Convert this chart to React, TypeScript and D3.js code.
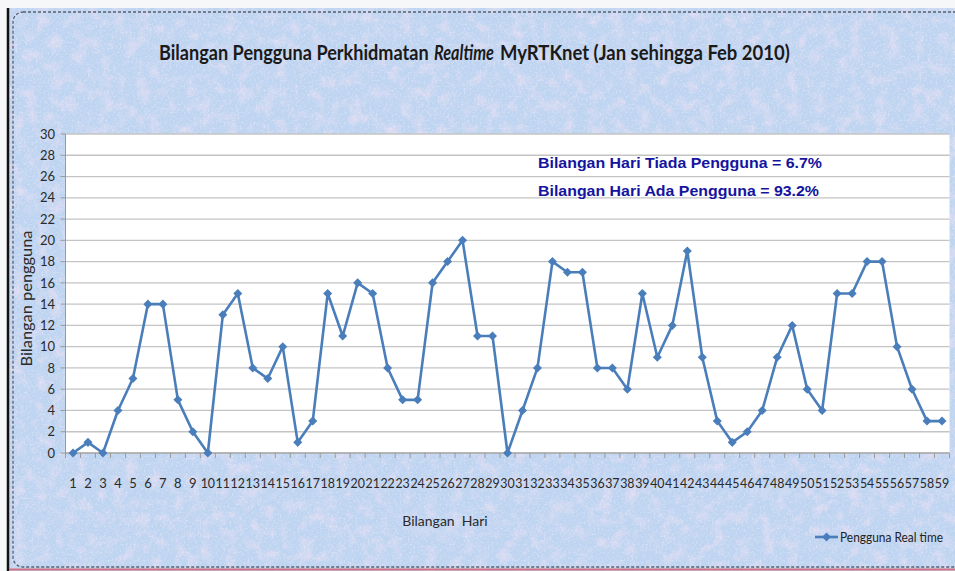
import React, { useEffect, useRef } from 'react';
import * as d3 from 'd3';

const width = 955, height = 571;
const margin = { top: 134, right: 5.5, bottom: 118, left: 65.5 };

// day numbers on the category axis
const days = [
  '1', '2', '3', '4', '5', '6', '7', '8', '9', '10',
  '11', '12', '13', '14', '15', '16', '17', '18', '19', '20',
  '21', '22', '23', '24', '25', '26', '27', '28', '29', '30',
  '31', '32', '33', '34', '35', '36', '37', '38', '39', '40',
  '41', '42', '43', '44', '45', '46', '47', '48', '49', '50',
  '51', '52', '53', '54', '55', '56', '57', '58', '59'];

// users per day
const users = [
  0, 1, 0, 4, 7, 14, 14, 5, 2, 0,
  13, 15, 8, 7, 10, 1, 3, 15, 11, 16,
  15, 8, 5, 5, 16, 18, 20, 11, 11, 0,
  4, 8, 18, 17, 17, 8, 8, 6, 15, 9,
  12, 19, 9, 3, 1, 2, 4, 9, 12, 6,
  4, 15, 15, 18, 18, 10, 6, 3, 3];

const yTicks = [0, 2, 4, 6, 8, 10, 12, 14, 16, 18, 20, 22, 24, 26, 28, 30];

const notes = ['Bilangan Hari Tiada Pengguna = 6.7%', 'Bilangan Hari Ada Pengguna = 93.2%'];
const noteWidths = [284, 281];

// title pieces, middle one is italic
const titleParts = ['Bilangan Pengguna Perkhidmatan', 'Realtime', 'MyRTKnet (Jan sehingga Feb 2010)'];
const titleSpans = [[159, 429], [434, 494], [500, 790]];

const lineColor = '#4a7ebb';
const calibri = 'Lato, "Open Sans", sans-serif';

export default function App() {
  const titleRef = useRef<SVGGElement>(null);

  // squeeze each title piece horizontally into its slot (Calibri is narrower than Lato)
  useEffect(() => {
    d3.select(titleRef.current).selectAll<SVGTextElement, unknown>('text').each(function (_, i) {
      const w = this.getComputedTextLength();
      const [a, b] = titleSpans[i];
      d3.select(this).attr('transform', `translate(${a},60) scale(${(b - a) / w},1)`);
    });
  }, []);

  const x = d3.scaleBand().domain(days).range([margin.left, width - margin.right]).padding(0);
  const y = d3.scaleLinear().domain([0, 30]).range([height - margin.bottom, margin.top]);
  const cx = (d: string) => (x(d) as number) + x.bandwidth() / 2;

  const line = d3.line<number>()
    .x((_, i) => cx(days[i]))
    .y(d => y(d));

  const diamond = d3.symbol().type(d3.symbolDiamond2).size(52)();

  const x0 = margin.left, x1 = width - margin.right, yb = y(0), yt = y(30);

  return (
    <div style={{ position: 'absolute', left: 0, top: 0 }}>
      <svg width={width} height={height} viewBox={`0 0 ${width} ${height}`}>
        <defs>
          <filter id="mottle" x="0" y="0" width="100%" height="100%">
            <feTurbulence type="fractalNoise" baseFrequency="0.08" numOctaves={3} seed={4} result="n" />
            <feColorMatrix in="n" type="matrix"
              values="0 0 0 0 0.93  0 0 0 0 0.76  0 0 0 0 0.90  1.8 0 0 0 -0.8" />
          </filter>
          <filter id="speck" x="0" y="0" width="100%" height="100%">
            <feTurbulence type="fractalNoise" baseFrequency="0.5" numOctaves={2} seed={9} result="n" />
            <feColorMatrix in="n" type="matrix"
              values="0 0 0 0 0.90  0 0 0 0 0.95  0 0 0 0 1  2.0 0 0 0 -0.95" />
          </filter>
        </defs>

        {/* page + frame */}
        <rect x={0} y={0} width={width} height={height} fill="#f6f7f9" />
        <rect x={9} y={8} width={width} height={height} fill="#bed4f1" />
        <rect x={9} y={8} width={width} height={height} filter="url(#mottle)" opacity={0.7} />
        <rect x={9} y={8} width={width} height={height} filter="url(#speck)" opacity={0.55} />
        <line x1={8} x2={8} y1={8} y2={height} stroke="#111" strokeWidth={2.5} />
        <rect x={13} y={12} width={width + 20} height={height - 16} rx={10} fill="none"
          stroke="#5a6070" strokeWidth={1.3} strokeDasharray="3,2" />
        <line x1={9} x2={width} y1={height - 1.5} y2={height - 1.5} stroke="#d07080" strokeWidth={2} />

        {/* title */}
        <g ref={titleRef}>
          {titleParts.map((t, i) => (
            <text key={t} transform={`translate(${titleSpans[i][0]},60)`} fontFamily={calibri}
              fontSize={20.5} fontWeight={700} fontStyle={i === 1 ? 'italic' : 'normal'}
              fill="#1a1a1a">{t}</text>
          ))}
        </g>

        {/* plot area */}
        <rect x={x0} y={yt} width={x1 - x0} height={yb - yt} fill="#ffffff" />
        {yTicks.map(t => (
          <line key={'g' + t} x1={x0} x2={x1} y1={y(t)} y2={y(t)} stroke="#c4c4c4" strokeWidth={1.3} />
        ))}
        <line x1={x0} x2={x0} y1={yt} y2={yb} stroke="#9a9a9a" />
        <line x1={x0} x2={x1} y1={yb} y2={yb} stroke="#9a9a9a" />
        {yTicks.map(t => (
          <line key={'yt' + t} x1={x0 - 5} x2={x0} y1={y(t)} y2={y(t)} stroke="#9a9a9a" />
        ))}
        {days.map(d => (
          <line key={'xt' + d} x1={x(d)} x2={x(d)} y1={yb} y2={yb + 5} stroke="#9a9a9a" />
        ))}
        <line x1={x1} x2={x1} y1={yb} y2={yb + 5} stroke="#9a9a9a" />

        {/* y tick labels */}
        {yTicks.map(t => (
          <text key={'yl' + t} x={55} y={y(t)} dy="0.36em" textAnchor="end" fontFamily={calibri}
            fontSize={13} fill="#2a2a2a">{t}</text>
        ))}
        {/* x tick labels */}
        {days.map(d => (
          <text key={'xl' + d} x={cx(d)} y={488} textAnchor="middle" fontFamily={calibri}
            fontSize={13} fill="#2a2a2a" textLength={d.length > 1 ? 14.4 : undefined}
            lengthAdjust="spacingAndGlyphs">{d}</text>
        ))}

        {/* axis titles */}
        <text transform={`translate(32,${(yt + yb) / 2 + 5}) rotate(-90)`} textAnchor="middle"
          fontFamily={calibri} fontSize={15} fill="#2a2a2a" textLength={136}
          lengthAdjust="spacingAndGlyphs">Bilangan pengguna</text>
        <text x={445} y={526} textAnchor="middle" fontFamily={calibri} fontSize={14} fill="#2a2a2a"
          style={{ whiteSpace: 'pre' }}>Bilangan  Hari</text>

        {/* notes */}
        {notes.map((n, i) => (
          <text key={n} x={538} y={167.5 + i * 28} fontFamily='"Liberation Sans", Arial, sans-serif'
            fontSize={15} fontWeight={700} fill="#1414a0" textLength={noteWidths[i]}
            lengthAdjust="spacingAndGlyphs">{n}</text>
        ))}

        {/* series */}
        <path d={line(users) as string} fill="none" stroke={lineColor} strokeWidth={2.6}
          strokeLinejoin="round" />
        {users.map((v, i) => (
          <path key={'m' + i} d={diamond as string} transform={`translate(${cx(days[i])},${y(v)})`}
            fill={lineColor} />
        ))}

        {/* legend */}
        <line x1={815} x2={838} y1={537} y2={537} stroke={lineColor} strokeWidth={2.6} />
        <path d={diamond as string} transform="translate(826.5,537)" fill={lineColor} />
        <text x={840} y={541.5} fontFamily={calibri} fontSize={13} fill="#222"
          textLength={103} lengthAdjust="spacingAndGlyphs">Pengguna Real time</text>
      </svg>
    </div>
  );
}
